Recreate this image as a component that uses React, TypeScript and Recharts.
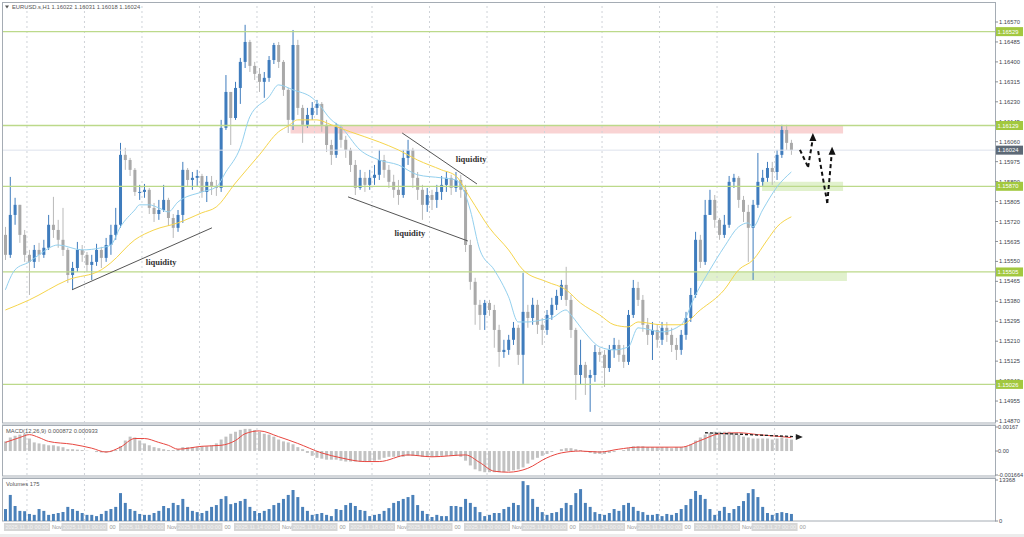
import React from 'react'
import {
  ComposedChart,
  Bar,
  Line,
  XAxis,
  YAxis,
  ReferenceLine,
  ReferenceArea,
  ReferenceDot,
} from 'recharts'

// EURUSD.s H1, drawn here as 2-hour candles.
// Prices are kept as points above 1.10000 (5578 -> 1.15578).
const FIRST_OPEN = 5663
const CLOSE = [
  5578, 5748, 5791, 5663, 5578, 5548, 5599, 5578, 5608, 5706,
  5684, 5642, 5599, 5492, 5522, 5599, 5578, 5535, 5548, 5599,
  5565, 5620, 5663, 5706, 6004, 5982, 5940, 5846, 5846, 5855,
  5778, 5752, 5769, 5812, 5735, 5693, 5748, 5940, 5897, 5906,
  5914, 5846, 5889, 5867, 5863, 6119, 6272, 6161, 6289, 6400,
  6485, 6383, 6349, 6315, 6332, 6408, 6472, 6400, 6281, 6153,
  6472, 6204, 6132, 6174, 6204, 6221, 6132, 6046, 6004, 6123,
  6068, 6025, 5961, 5863, 5906, 5876, 5906, 5919, 5982, 5940,
  5889, 5855, 5833, 5991, 6025, 5906, 5855, 5791, 5833, 5812,
  5846, 5876, 5906, 5863, 5897, 5855, 5620, 5463, 5365, 5322,
  5373, 5343, 5258, 5164, 5173, 5216, 5267, 5152, 5335, 5309,
  5365, 5280, 5258, 5322, 5365, 5403, 5450, 5386, 5258, 5066,
  5109, 5054, 5066, 5164, 5152, 5096, 5173, 5194, 5152, 5122,
  5322, 5437, 5386, 5280, 5237, 5258, 5216, 5267, 5237, 5194,
  5173, 5237, 5309, 5407, 5642, 5548, 5748, 5812, 5727, 5663,
  5706, 5889, 5906, 5812, 5761, 5693, 5791, 5889, 5906, 5948,
  5931, 6004, 6110, 6055, 6024,
]
const HIGH = [
  5697, 5910, 5821, 5791, 5684, 5599, 5620, 5629, 5642, 5748,
  5825, 5727, 5778, 5608, 5548, 5633, 5620, 5590, 5578, 5625,
  5612, 5650, 5706, 5778, 6055, 6034, 5991, 5948, 5876, 5880,
  5863, 5799, 5812, 5876, 5821, 5752, 5769, 5974, 5948, 5931,
  5940, 5923, 5914, 5914, 5897, 6153, 6344, 6272, 6315, 6417,
  6558, 6494, 6400, 6374, 6357, 6425, 6481, 6485, 6408, 6289,
  6536, 6494, 6217, 6204, 6229, 6238, 6229, 6153, 6068, 6140,
  6132, 6085, 6034, 5982, 5940, 5931, 5940, 5961, 6025, 6004,
  5961, 5919, 5897, 6025, 6068, 6034, 5931, 5876, 5863, 5855,
  5876, 5914, 5931, 5919, 5931, 5919, 5876, 5642, 5480, 5386,
  5386, 5386, 5365, 5280, 5216, 5237, 5292, 5280, 5501, 5365,
  5395, 5386, 5309, 5343, 5395, 5429, 5471, 5527, 5407, 5267,
  5216, 5122, 5088, 5194, 5182, 5173, 5194, 5224, 5216, 5194,
  5343, 5471, 5463, 5407, 5309, 5292, 5280, 5292, 5292, 5267,
  5224, 5258, 5335, 5437, 5676, 5663, 5812, 5855, 5833, 5735,
  5748, 5914, 5923, 5914, 5829, 5791, 5812, 6012, 5940, 5974,
  5974, 6025, 6132, 6132, 6068,
]
const LOW = [
  5556, 5565, 5706, 5629, 5548, 5407, 5522, 5548, 5565, 5599,
  5650, 5608, 5573, 5458, 5429, 5505, 5548, 5505, 5471, 5531,
  5522, 5548, 5578, 5642, 5693, 5940, 5914, 5829, 5812, 5821,
  5752, 5718, 5727, 5761, 5701, 5650, 5676, 5714, 5872, 5855,
  5872, 5821, 5803, 5833, 5829, 5846, 6110, 6046, 6153, 6221,
  6374, 6357, 6323, 6272, 6247, 6315, 6391, 6374, 6255, 6097,
  6110, 6174, 6055, 6119, 6153, 6174, 6102, 6016, 5961, 5991,
  6034, 5991, 5931, 5833, 5855, 5846, 5855, 5876, 5897, 5906,
  5863, 5821, 5791, 5821, 5961, 5863, 5812, 5727, 5761, 5769,
  5778, 5812, 5846, 5833, 5846, 5821, 5590, 5429, 5280, 5258,
  5258, 5318, 5182, 5101, 5139, 5152, 5194, 5109, 5028, 5267,
  5280, 5241, 5194, 5237, 5301, 5343, 5386, 5360, 5224, 4960,
  5024, 4981, 4909, 5037, 5122, 5015, 5079, 5139, 5122, 5096,
  5109, 5309, 5360, 5250, 5194, 5130, 5182, 5194, 5207, 5164,
  5130, 5152, 5216, 5292, 5395, 5522, 5535, 5748, 5693, 5642,
  5650, 5693, 5863, 5778, 5718, 5548, 5471, 5778, 5872, 5889,
  5876, 5897, 5991, 6025, 6004,
]
const VOLUME = [
  3900, 8500, 4900, 3300, 3200, 2300, 2000, 3900, 3300, 2000,
  2300, 2600, 2900, 4600, 3900, 3300, 2600, 2000, 2000, 1600,
  2300, 3300, 3900, 4600, 9100, 5900, 3900, 3300, 2300, 2000,
  2000, 2600, 3300, 4900, 4200, 5900, 5200, 7200, 4600, 3300,
  2900, 2600, 3300, 4600, 5200, 7200, 8100, 5500, 5900, 6500,
  7200, 4600, 3300, 2600, 3300, 3900, 5200, 5900, 7200, 8500,
  10100, 7800, 4600, 3300, 2000, 2300, 2600, 2000, 1600, 3900,
  3600, 5200, 5900, 4900, 3600, 3300, 1600, 2000, 2300, 3300,
  4200, 5900, 6500, 7200, 7800, 8500, 5200, 3300, 2300, 1300,
  2000, 1600, 1600, 4900, 4900, 4600, 7200, 5900, 4600, 2900,
  1600, 2000, 2600, 2600, 3900, 4600, 5900, 5200, 13000, 11700,
  7200, 4600, 2900, 2000, 2600, 2900, 4200, 5900, 5200, 9100,
  10400, 5900, 4600, 2900, 2300, 2000, 2600, 3900, 3300, 5200,
  5900, 4600, 3300, 2900, 2000, 2000, 2300, 1600, 2300, 2000,
  2600, 3900, 5200, 7200, 9800, 8500, 7200, 3900, 2000, 3300,
  4600, 2600, 3900, 4900, 6500, 9100, 10400, 7800, 4600, 2600,
  2000, 2600, 2900, 2600, 2300,
]
// MACD histogram and signal, units of 0.00001
const MACD_HIST = [
  67, 94, 107, 114, 120, 87, 60, 53, 47, 40,
  40, 33, 27, 13, 13, 10, 7, 3, 0, -7,
  -10, -10, -7, 7, 33, 73, 100, 94, 73, 53,
  40, 27, 20, 13, 7, 7, 13, 27, 27, 27,
  27, 33, 33, 40, 53, 80, 100, 120, 134, 147,
  154, 154, 147, 134, 120, 114, 100, 80, 67, 60,
  47, 27, 13, -13, -33, -47, -53, -60, -60, -60,
  -67, -73, -73, -73, -73, -73, -73, -67, -60, -47,
  -40, -40, -40, -40, -33, -33, -33, -40, -40, -40,
  -40, -33, -33, -33, -33, -40, -67, -100, -127, -140,
  -147, -147, -147, -147, -147, -140, -134, -127, -114, -87,
  -60, -47, -33, -20, -7, 0, 13, 20, 20, 13,
  7, -7, -13, -20, -20, -20, -13, -7, 0, 7,
  20, 33, 33, 33, 27, 27, 27, 27, 27, 20,
  27, 27, 33, 47, 73, 94, 114, 127, 134, 134,
  134, 134, 127, 114, 100, 94, 87, 87, 87, 87,
  80, 87, 94, 87, 80,
]
const SIGNAL_AT = [
  0, 3, 5, 7, 9, 14, 18, 21, 24, 27, 29, 32, 34, 36, 41, 45, 48, 50, 53, 57,
  61, 66, 70, 75, 78, 84, 89, 96, 99, 102, 105, 109, 113, 116, 120, 124, 128, 132, 137, 141,
  145, 149, 153, 157, 162, 164,
]
const SIGNAL = [
  60, 94, 114, 94, 67, 47, 20, -7, 27, 87, 87, 60, 40, 13, 33, 40, 73, 120, 140, 100,
  53, -13, -47, -73, -73, -27, -40, -27, -80, -140, -147, -120, -47, -13, 0, -7, 13, 27, 27, 27,
  73, 120, 127, 114, 100, 93,
]
// moving averages at a few candles
const FAST_MA_AT = [
  0, 2, 5, 7, 11, 16, 20, 22, 24, 27, 28, 30, 32, 34, 36, 41, 44, 46, 49, 51,
  55, 57, 60, 64, 65, 68, 70, 74, 78, 82, 86, 91, 94, 96, 97, 99, 102, 105, 107, 109,
  112, 114, 117, 118, 121, 124, 127, 130, 132, 137, 141, 144, 147, 150, 153, 155, 156, 158, 161, 164,
]
const FAST_MA = [
  5429, 5514, 5548, 5578, 5620, 5599, 5608, 5620, 5697, 5769, 5791, 5791, 5778, 5761, 5803, 5846, 5867, 5931, 6034, 6166,
  6251, 6302, 6281, 6247, 6229, 6153, 6123, 6025, 5982, 5961, 5919, 5906, 5897, 5833, 5769, 5599, 5514, 5399, 5292, 5292,
  5301, 5309, 5343, 5322, 5245, 5186, 5173, 5186, 5267, 5250, 5280, 5407, 5514, 5612, 5697, 5714, 5697, 5769, 5867, 5931,
]
const SLOW_MA_AT = [
  0, 5, 13, 20, 22, 27, 31, 36, 41, 44, 48, 53, 57, 59, 61, 65, 68, 72, 78, 82,
  86, 91, 94, 97, 101, 105, 108, 113, 117, 120, 124, 127, 130, 132, 137, 141, 145, 150, 153, 156,
  159, 161, 164,
]
const SLOW_MA = [
  5343, 5386, 5471, 5514, 5544, 5642, 5684, 5714, 5757, 5782, 5884, 6004, 6102, 6127, 6153, 6153, 6132, 6102, 6059, 6025,
  5982, 5940, 5914, 5820, 5693, 5599, 5514, 5463, 5429, 5373, 5322, 5280, 5271, 5292, 5280, 5280, 5343, 5429, 5514, 5556,
  5642, 5697, 5740,
]

const PRICE_TICKS = [
  1.1657, 1.16485, 1.164, 1.16315, 1.1623, 1.16145, 1.1606, 1.15975, 1.1589, 1.15805, 1.1572,
  1.15635, 1.1555, 1.15465, 1.1538, 1.15295, 1.1521, 1.15125, 1.1504, 1.14955, 1.1487,
]
const MACD_TICKS = [167, 0, -166.4]
const MACD_TICK_LABELS = ['0.00167', '0.00', '-0.001664']
const VOL_TICKS = [13368, 0]
const DAY_LABELS = [
  '2025.11.10 00:00', '2025.11.11 00:00', '2025.11.12 00:00', '2025.11.13 00:00', '2025.11.14 00:00',
  '2025.11.17 00:00', '2025.11.18 00:00', '2025.11.19 00:00', '2025.11.20 00:00', '2025.11.21 00:00',
  '2025.11.24 00:00', '2025.11.25 00:00', '2025.11.26 00:00', '2025.11.27 00:00',
]
const LEVELS = [1.16529, 1.16129, 1.1587, 1.15505, 1.15026]
const LAST_PRICE = 1.16024

const SLOTS = 207
const P_MIN = 1.148615
const P_MAX = 1.166467
const BULL = '#3f7cbd'
const BEAR = '#a9a9a9'
const BEAR_WICK = '#b9b9b9'
const FONT = 'Liberation Sans, Arial, sans-serif'
const MAIN_MARGIN = { top: 4, right: 0, bottom: 1, left: 3 }

const toPrice = (v: number) => 1.1 + v / 100000
const DAY_TICKS = DAY_LABELS.map((_, k) => 4.5 + 12 * k)

const rows: any[] = Array.from({ length: SLOTS }, (_, i) => {
  const r: any = { i }
  if (i < CLOSE.length) {
    r.o = toPrice(i === 0 ? FIRST_OPEN : CLOSE[i - 1])
    r.c = toPrice(CLOSE[i])
    r.h = toPrice(HIGH[i])
    r.l = toPrice(LOW[i])
    r.range = [r.l, r.h]
    r.vol = VOLUME[i]
    r.hist = MACD_HIST[i]
  }
  return r
})
FAST_MA_AT.forEach((s, k) => (rows[s].fast = toPrice(FAST_MA[k])))
SLOW_MA_AT.forEach((s, k) => (rows[s].slow = toPrice(SLOW_MA[k])))
SIGNAL_AT.forEach((s, k) => (rows[s].signal = SIGNAL[k]))

function Candle(props: any) {
  const { x, y, width, height, payload } = props
  if (!payload || payload.o == null) return null
  const { o, c, h, l } = payload
  const top = Math.min(y, y + height)
  const span = Math.abs(height)
  const k = h > l ? span / (h - l) : 0
  const py = (p: number) => top + (h - p) * k
  const up = c >= o
  const bTop = py(Math.max(o, c))
  const bH = Math.max(1, py(Math.min(o, c)) - bTop)
  const cx = x + width / 2
  return (
    <g>
      <line x1={cx} x2={cx} y1={top} y2={top + span} stroke={up ? BULL : BEAR_WICK} strokeWidth={1} />
      <rect x={x} y={bTop} width={width} height={bH} fill={up ? BULL : BEAR} />
    </g>
  )
}

const priceTag = (fill: string, text: string) => (p: any) => (
  <g>
    <rect x={p.cx + 1.5} y={p.cy - 4.5} width={27} height={9} fill={fill} />
    <text x={p.cx + 3} y={p.cy + 2.2} fontSize={5.8} fill="#fff" fontFamily={FONT}>
      {text}
    </text>
  </g>
)

const textMark = (p: any) => (
  <text
    x={p.cx}
    y={p.cy}
    textAnchor="middle"
    dominantBaseline="middle"
    fontSize={8.5}
    fontWeight={600}
    fill="#333"
    fontFamily="Liberation Serif, serif"
  >
    liquidity
  </text>
)

const headUp = (p: any) => (
  <polygon points={`${p.cx},${p.cy} ${p.cx - 3.5},${p.cy + 8} ${p.cx + 3.5},${p.cy + 8}`} fill="#111" />
)
const headRight = (p: any) => (
  <polygon points={`${p.cx},${p.cy} ${p.cx - 7},${p.cy - 3} ${p.cx - 7},${p.cy + 3}`} fill="#222" />
)

// date boxes under the volume panel (chart-local y: plot ends at 43)
function DateTick(props: any) {
  const { x, payload } = props
  const k = Math.round((payload.value - DAY_TICKS[0]) / 12)
  return (
    <g>
      <rect x={x - 23} y={45} width={46} height={8} fill="#d6d6d6" />
      <text x={x} y={51.3} textAnchor="middle" fontSize={5.6} fill="#f3f3f3" fontFamily={FONT}>
        {DAY_LABELS[k]}
      </text>
      <text x={x + 25} y={51.3} fontSize={5.6} fill="#9a9a9a" fontFamily={FONT}>
        {k % 2 === 0 ? 'Nov' : '00'}
      </text>
    </g>
  )
}

function MacdTick(props: any) {
  const { x, y, payload } = props
  const label = MACD_TICK_LABELS[MACD_TICKS.indexOf(payload.value)]
  return (
    <text x={x - 1} y={y + 2} fontSize={5.6} fill="#3d444c" fontFamily={FONT}>
      {label}
    </text>
  )
}

const tickStyle = { fontSize: 5.8, fill: '#3d444c', fontFamily: FONT }

function dayGrid() {
  return DAY_TICKS.map((d) => (
    <ReferenceLine key={'g' + d} xAxisId="num" x={d} stroke="#cfd3d8" strokeDasharray="2 3" />
  ))
}

function xAxes(showDates = false) {
  return [
    <XAxis key="cat" xAxisId="cat" dataKey="i" type="category" hide />,
    <XAxis
      key="num"
      xAxisId="num"
      dataKey="i"
      type="number"
      domain={[-0.5, SLOTS - 0.5]}
      allowDataOverflow
      hide={!showDates}
      ticks={DAY_TICKS}
      interval={0}
      height={14}
      axisLine={false}
      tickLine={false}
      tickSize={0}
      tickMargin={0}
      tick={<DateTick />}
    />,
  ]
}

function MainChart() {
  return (
    <ComposedChart width={1024} height={424} data={rows} margin={MAIN_MARGIN}>
      {xAxes()}
      <YAxis
        orientation="right"
        domain={[P_MIN, P_MAX]}
        allowDataOverflow
        ticks={PRICE_TICKS}
        interval={0}
        width={29}
        axisLine={false}
        tickLine={{ stroke: '#8a9098' }}
        tickSize={3}
        tickMargin={1}
        tick={tickStyle}
        tickFormatter={(v: number) => v.toFixed(5)}
      />
      {dayGrid()}
      <ReferenceArea xAxisId="num" x1={59.5} x2={174.8} y1={1.16095} y2={1.16129} fill="#f9d3d3" fillOpacity={1} />
      <ReferenceArea xAxisId="num" x1={157.9} x2={174.8} y1={1.1585} y2={1.15889} fill="#e1f1cd" fillOpacity={1} />
      <ReferenceArea xAxisId="num" x1={144} x2={175.6} y1={1.15467} y2={1.15505} fill="#e1f1cd" fillOpacity={1} />
      <ReferenceLine xAxisId="num" y={LAST_PRICE} stroke="#dde2ec" />
      {LEVELS.map((lv) => (
        <ReferenceLine key={lv} xAxisId="num" y={lv} stroke="#bcd98a" strokeWidth={1.3} />
      ))}
      <Bar xAxisId="cat" dataKey="range" shape={Candle} barSize={3} isAnimationActive={false} />
      <Line xAxisId="cat" dataKey="fast" type="monotone" stroke="#93d0ee" strokeWidth={1} dot={false} activeDot={false} connectNulls isAnimationActive={false} />
      <Line xAxisId="cat" dataKey="slow" type="monotone" stroke="#f6d54c" strokeWidth={1} dot={false} activeDot={false} connectNulls isAnimationActive={false} />
      {/* trend lines */}
      <ReferenceLine xAxisId="num" segment={[{ x: 13.9, y: 1.15429 }, { x: 43.1, y: 1.15693 }]} stroke="#555" />
      <ReferenceLine xAxisId="num" segment={[{ x: 82.8, y: 1.16097 }, { x: 98.4, y: 1.1588 }]} stroke="#555" />
      <ReferenceLine xAxisId="num" segment={[{ x: 71.5, y: 1.15825 }, { x: 96.5, y: 1.15637 }]} stroke="#555" />
      <ReferenceDot xAxisId="num" x={32.5} y={1.15544} r={0} shape={textMark} />
      <ReferenceDot xAxisId="num" x={84.4} y={1.15667} r={0} shape={textMark} />
      <ReferenceDot xAxisId="num" x={97.2} y={1.15982} r={0} shape={textMark} />
      {/* projected zigzag */}
      <ReferenceLine xAxisId="num" segment={[{ x: 165.8, y: 1.16025 }, { x: 167.5, y: 1.15952 }]} stroke="#111" strokeWidth={2} strokeDasharray="4 3" />
      <ReferenceLine xAxisId="num" segment={[{ x: 167.5, y: 1.15952 }, { x: 168.4, y: 1.16063 }]} stroke="#111" strokeWidth={2} strokeDasharray="4 3" />
      <ReferenceDot xAxisId="num" x={168.5} y={1.16097} r={0} shape={headUp} />
      <ReferenceLine xAxisId="num" segment={[{ x: 169.6, y: 1.1602 }, { x: 171.5, y: 1.15799 }]} stroke="#111" strokeWidth={2} strokeDasharray="4 3" />
      <ReferenceLine xAxisId="num" segment={[{ x: 171.5, y: 1.15799 }, { x: 172.4, y: 1.16004 }]} stroke="#111" strokeWidth={2} strokeDasharray="4 3" />
      <ReferenceDot xAxisId="num" x={172.5} y={1.16038} r={0} shape={headUp} />
    </ComposedChart>
  )
}

// price tags drawn in a layer above the scale labels
function TagLayer() {
  return (
    <ComposedChart width={1024} height={424} data={rows} margin={MAIN_MARGIN}>
      {xAxes()}
      <YAxis
        orientation="right"
        domain={[P_MIN, P_MAX]}
        allowDataOverflow
        width={29}
        axisLine={false}
        tickLine={false}
        tick={false}
      />
      {LEVELS.map((lv) => (
        <ReferenceDot key={'t' + lv} xAxisId="num" x={206.4} y={lv} r={0} shape={priceTag('#a2c83f', lv.toFixed(5))} />
      ))}
      <ReferenceDot xAxisId="num" x={206.4} y={LAST_PRICE} r={0} shape={priceTag('#5d6976', LAST_PRICE.toFixed(5))} />
    </ComposedChart>
  )
}

function MacdChart() {
  return (
    <ComposedChart width={1024} height={52} data={rows} margin={{ top: 2, right: 0, bottom: 2, left: 3 }}>
      {xAxes()}
      <YAxis
        orientation="right"
        domain={[-166.4, 167]}
        allowDataOverflow
        ticks={MACD_TICKS}
        interval={0}
        width={29}
        axisLine={false}
        tickLine={{ stroke: '#8a9098' }}
        tickSize={3}
        tickMargin={1}
        tick={<MacdTick />}
      />
      {dayGrid()}
      <Bar xAxisId="cat" dataKey="hist" fill="#c2c2c2" barSize={3} isAnimationActive={false} />
      <Line xAxisId="cat" dataKey="signal" type="monotone" stroke="#e8463f" strokeWidth={1} dot={false} activeDot={false} connectNulls isAnimationActive={false} />
      <ReferenceLine xAxisId="num" segment={[{ x: 146, y: 127 }, { x: 164.8, y: 100 }]} stroke="#222" strokeWidth={1.3} strokeDasharray="3 2" />
      <ReferenceDot xAxisId="num" x={166.4} y={98} r={0} shape={headRight} />
    </ComposedChart>
  )
}

function VolumeChart() {
  return (
    <ComposedChart width={1024} height={57} data={rows} margin={{ top: 2, right: 0, bottom: 0, left: 3 }}>
      {xAxes(true)}
      <YAxis
        orientation="right"
        domain={[0, 13368]}
        allowDataOverflow
        ticks={VOL_TICKS}
        interval={0}
        width={29}
        axisLine={false}
        tickLine={{ stroke: '#8a9098' }}
        tickSize={3}
        tickMargin={1}
        tick={tickStyle}
      />
      {dayGrid()}
      <Bar xAxisId="cat" dataKey="vol" fill="#4a80b9" barSize={3} isAnimationActive={false} />
    </ComposedChart>
  )
}

export default function App() {
  const abs = (top: number): React.CSSProperties => ({ position: 'absolute', left: 0, top })
  return (
    <div style={{ position: 'absolute', left: 0, top: 0, width: 1024, height: 537, background: '#fff', overflow: 'hidden' }}>
      <svg width={1024} height={537} style={abs(0)}>
        <rect x={2.5} y={2.5} width={993} height={420.5} fill="none" stroke="#a5acb4" />
        <rect x={2} y={423.5} width={994} height={1.5} fill="#d5d9dd" />
        <rect x={2.5} y={425.5} width={993} height={50.5} fill="none" stroke="#a5acb4" />
        <rect x={2} y={476.5} width={994} height={1.5} fill="#d5d9dd" />
        <rect x={2.5} y={478.5} width={993} height={42.5} fill="none" stroke="#a5acb4" />
        <rect x={0} y={534} width={1024} height={3} fill="#ececec" />
      </svg>
      <div style={abs(0)}>
        <MainChart />
      </div>
      <div style={abs(0)}>
        <TagLayer />
      </div>
      <div style={abs(425)}>
        <MacdChart />
      </div>
      <div style={abs(478)}>
        <VolumeChart />
      </div>
      <svg width={1024} height={537} style={{ ...abs(0), pointerEvents: 'none' }}>
        <g fontFamily={FONT} fontSize={5.8} fill="#555">
          <polygon points="5,5.5 9,5.5 7,8.5" fill="#555" />
          <text x={12} y={9}>EURUSD.s,H1  1.16022 1.16031 1.16018 1.16024</text>
          <text x={6} y={433}>MACD(12,26,9) 0.000872 0.000933</text>
          <text x={6} y={486}>Volumes 175</text>
        </g>
      </svg>
    </div>
  )
}
